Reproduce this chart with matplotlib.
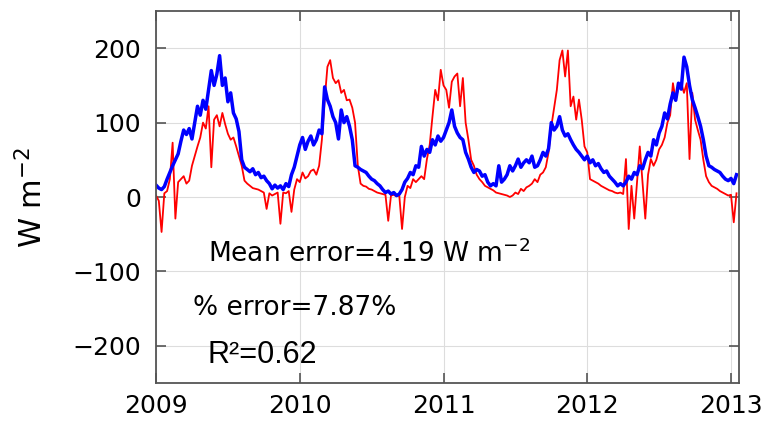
import numpy as np
import matplotlib
matplotlib.use("Agg")
import matplotlib.pyplot as plt

# weekly values (W m-2)
blue_2009 = [16, 12, 10, 14, 24, 33, 42, 50, 58, 75, 90, 84, 92,
             78, 100, 122, 110, 130, 118, 144, 170, 150, 165, 190, 150, 160,
             128, 140, 113, 105, 88, 50, 40, 37, 34, 38, 30, 33, 26,
             28, 22, 18, 11, 16, 12, 15, 10, 18, 14, 30, 40, 55]
red_2009 = [2, -5, -47, 5, 8, 24, 73, -29, 20, 24, 28, 18, 22,
            42, 55, 68, 80, 100, 92, 122, 40, 104, 110, 95, 113, 98,
            85, 77, 80, 68, 55, 42, 22, 18, 15, 12, 11, 10, 8,
            6, -16, 5, 2, 4, 6, -36, 6, 5, 8, -20, 10, 24]
blue_2010 = [70, 80, 64, 75, 82, 70, 77, 90, 85, 148, 131, 122, 108,
             100, 78, 117, 100, 108, 95, 77, 42, 40, 37, 35, 33, 28,
             24, 22, 18, 15, 10, 6, 8, 4, 6, 2, 4, 10, 20,
             25, 33, 30, 42, 40, 68, 55, 64, 60, 77, 70, 82, 75]
red_2010 = [20, 33, 25, 28, 35, 37, 30, 42, 77, 130, 175, 184, 160,
            153, 157, 140, 144, 130, 131, 120, 100, 42, 18, 15, 14, 11,
            10, 8, 6, 5, 4, 3, -32, 2, 3, 1, 2, -43, 0,
            15, 12, 24, 20, 24, 28, 24, 51, 70, 108, 144, 130, 171]
blue_2011 = [80, 90, 100, 117, 95, 86, 80, 77, 60, 51, 40, 33, 37,
             35, 28, 30, 20, 15, 18, 15, 42, 20, 24, 30, 42, 35,
             42, 51, 40, 46, 50, 46, 55, 40, 42, 50, 60, 55, 65,
             100, 90, 95, 108, 90, 82, 85, 77, 70, 64, 60, 55, 50]
red_2011 = [150, 144, 120, 155, 162, 166, 122, 160, 100, 77, 50, 42, 30,
            24, 20, 15, 13, 11, 9, 6, 5, 4, 3, 2, 0, 2,
            6, 4, 11, 8, 13, 15, 18, 24, 20, 30, 33, 40, 60,
            95, 120, 144, 184, 197, 162, 197, 122, 135, 104, 131, 104, 68]
blue_2012 = [55, 46, 50, 42, 45, 38, 33, 35, 28, 24, 20, 15, 18,
             15, 20, 28, 24, 33, 30, 42, 38, 50, 60, 55, 77, 70,
             86, 95, 113, 105, 125, 140, 130, 153, 145, 188, 175, 150, 131,
             120, 108, 95, 77, 55, 42, 40, 37, 35, 33, 28, 24, 22]
red_2012 = [60, 24, 22, 20, 18, 15, 13, 11, 9, 8, 6, 5, 6,
            4, 51, -43, 15, -29, 20, 68, 20, -29, 30, 51, 42, 50,
            64, 70, 80, 100, 110, 153, 130, 148, 153, 140, 153, 51, 140,
            104, 90, 77, 50, 28, 20, 15, 13, 11, 8, 6, 4, 2]
blue_2013 = [25, 18, 30]
red_2013 = [3, -34, 5]

blue = np.array(blue_2009 + blue_2010 + blue_2011 + blue_2012 + blue_2013)
red = np.array(red_2009 + red_2010 + red_2011 + red_2012 + red_2013)
t = 2009 + np.arange(len(blue)) / 52.0

year_ticks = [2009, 2010, 2011, 2012, 2013]
y_ticks = [-200, -100, 0, 100, 200]

fig = plt.figure(figsize=(7.66, 4.24), dpi=100)
ax = fig.add_axes([0.2037, 0.0967, 0.7611, 0.8773])

ax.plot(t, red, color="#ff0000", lw=1.3)
ax.plot(t, blue, color="#0000ff", lw=2.5)

ax.set_xlim(2009, 2013.056)
ax.set_ylim(-250, 250)
ax.set_xticks(year_ticks)
ax.set_yticks(y_ticks)
ax.set_yticklabels(["\u2212200", "\u2212100", "0", "100", "200"])
ax.grid(True, color="#dddddd", lw=0.8)
ax.set_axisbelow(True)
ax.tick_params(direction="in", length=7, width=1.2, top=True, right=True,
               labelsize=18, color="#555555")
ax.tick_params(axis="y", pad=11)
ax.tick_params(axis="x", pad=8)
for s in ax.spines.values():
    s.set_color("#555555")
    s.set_linewidth(1.3)

ax.set_ylabel("W m$^{-2}$", fontsize=22)
ax.yaxis.set_label_coords(-0.185, 0.5)

ax.text(2009.36, -76, "Mean error=4.19 W m$^{-2}$", fontsize=19, va="center")
ax.text(2009.26, -149, "% error=7.87%", fontsize=19, va="center")
ax.text(2009.36, -212, "R\u00b2=0.62", fontsize=22, va="center",
        family="Liberation Sans")

fig.savefig("out.png", dpi=100)
